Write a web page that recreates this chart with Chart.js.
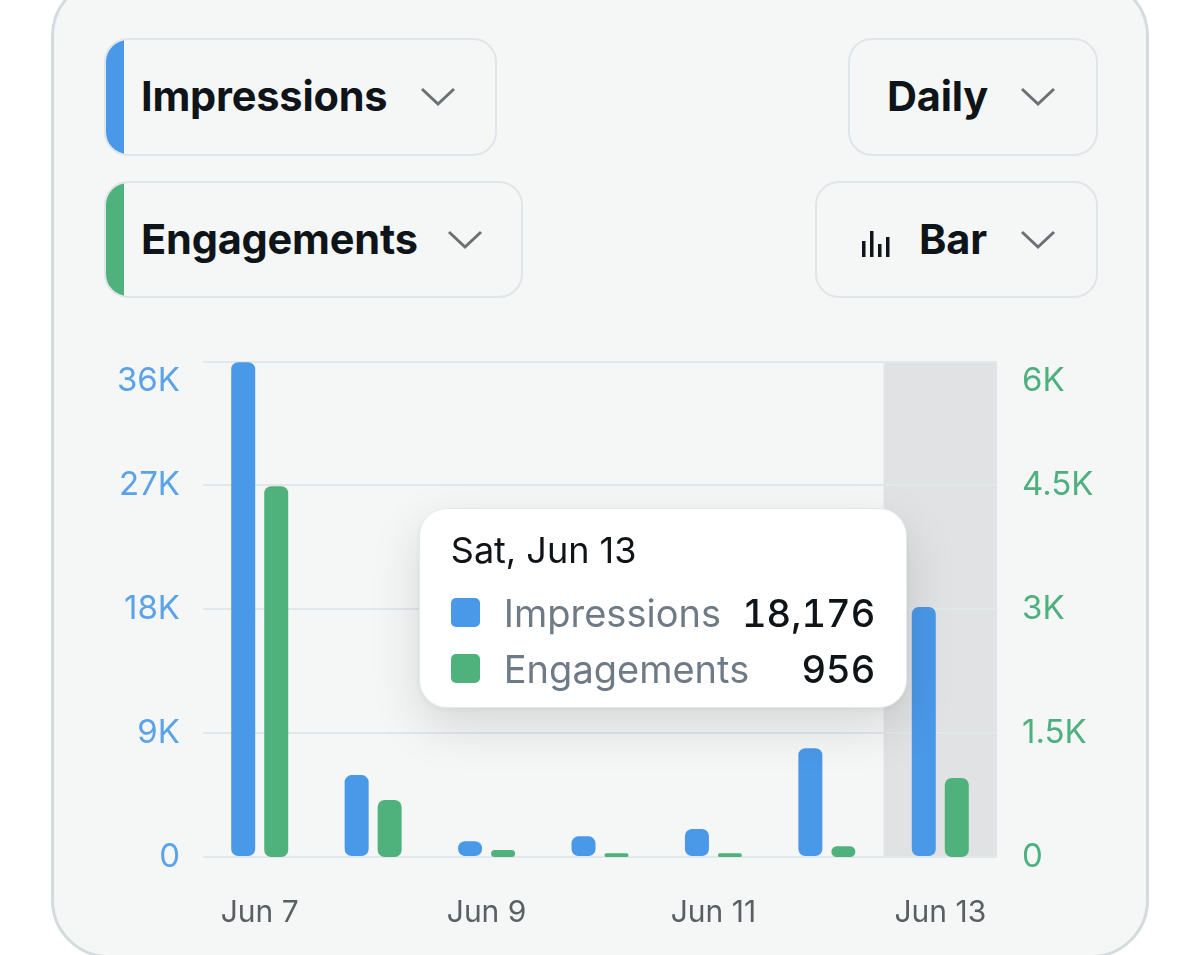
<!DOCTYPE html>
<html>
<head>
<meta charset="utf-8">
<script src="https://cdn.jsdelivr.net/npm/chart.js@4.4.1/dist/chart.umd.min.js"></script>
<style>
  html, body { margin:0; padding:0; background:#ffffff; width:1200px; height:955px; overflow:hidden; font-family: Inter, "Noto Sans", sans-serif; }
  #card { position:absolute; left:51px; top:-22px; width:1098px; height:980px; border:3px solid #d3dbdf; border-radius:58px; background:#f5f7f7; box-sizing:border-box; }
  .dd { position:absolute; box-sizing:border-box; border:2px solid #dfe5e8; border-radius:24px; background:#f5f7f7; overflow:hidden; color:#0f1419; font-weight:700; font-size:41.5px; }
  .dd .strip { position:absolute; left:0; top:0; bottom:0; width:18px; }
  .dd .txt { position:absolute; top:50%; transform:translateY(-52%); white-space:nowrap; letter-spacing:-0.2px; }
  .dd svg.chev { position:absolute; top:50%; margin-top:-10px; }
  #wrap { position:absolute; left:100px; top:297px; width:1000px; height:658px; }
  #tt { position:absolute; box-sizing:border-box; background:#ffffff; border:1px solid #e6e8ea; border-radius:28px; box-shadow: 0 18px 50px rgba(0,0,0,0.13), 0 2px 6px rgba(0,0,0,0.05); padding:18px 31px 10px 31px; pointer-events:none; color:#0f1419; opacity:0; }
  #tt .title { font-size:36px; font-weight:400; line-height:46px; margin-bottom:12px; }
  #tt .row { display:flex; align-items:center; height:56px; font-size:38px; }
  #tt .sw { width:29px; height:29px; border-radius:5px; margin-right:24px; flex:none; }
  #tt .lab { color:#6e7b86; flex:1; white-space:nowrap; }
  #tt .val { font-weight:500; margin-left:21px; white-space:nowrap; font-variant-numeric: tabular-nums; }
</style>
</head>
<body>
<div id="card"></div>

<div class="dd" style="left:104px;top:38px;width:393px;height:118px;">
  <div class="strip" style="background:#4a98e8;"></div>
  <div class="txt" style="left:35px;">Impressions</div>
  <svg class="chev" style="left:314px;" width="36" height="20" viewBox="0 0 36 20"><polyline points="2,2 18,17 34,2" fill="none" stroke="#6b7075" stroke-width="3"/></svg>
</div>
<div class="dd" style="left:104px;top:181px;width:419px;height:117px;">
  <div class="strip" style="background:#4fb27c;"></div>
  <div class="txt" style="left:35px;">Engagements</div>
  <svg class="chev" style="left:341px;" width="36" height="20" viewBox="0 0 36 20"><polyline points="2,2 18,17 34,2" fill="none" stroke="#6b7075" stroke-width="3"/></svg>
</div>
<div class="dd" style="left:848px;top:38px;width:250px;height:118px;">
  <div class="txt" style="left:37px;">Daily</div>
  <svg class="chev" style="left:170px;" width="36" height="20" viewBox="0 0 36 20"><polyline points="2,2 18,17 34,2" fill="none" stroke="#6b7075" stroke-width="3"/></svg>
</div>
<div class="dd" style="left:815px;top:181px;width:283px;height:117px;">
  <svg style="position:absolute;left:44px;top:45px;" width="30" height="30" viewBox="0 0 30 30">
    <rect x="1" y="13" width="3.5" height="16" fill="#0f1419"/>
    <rect x="9" y="3" width="3.5" height="26" fill="#0f1419"/>
    <rect x="17" y="16" width="3.5" height="13" fill="#0f1419"/>
    <rect x="25" y="9" width="3.5" height="20" fill="#0f1419"/>
  </svg>
  <div class="txt" style="left:102px;">Bar</div>
  <svg class="chev" style="left:203px;" width="36" height="20" viewBox="0 0 36 20"><polyline points="2,2 18,17 34,2" fill="none" stroke="#6b7075" stroke-width="3"/></svg>
</div>

<div id="wrap"><canvas id="c"></canvas></div>
<div id="tt"></div>

<script>
const categories = ['Jun 7', 'Jun 8', 'Jun 9', 'Jun 10', 'Jun 11', 'Jun 12', 'Jun 13'];
const fullDates = ['Sun, Jun 7', 'Mon, Jun 8', 'Tue, Jun 9', 'Wed, Jun 10', 'Thu, Jun 11', 'Fri, Jun 12', 'Sat, Jun 13'];
const impressions = [35950, 5950, 1140, 1500, 2040, 7900, 18176];
const engagements = [4490, 690, 85, 45, 45, 130, 956];
const leftTicks = [0, 9000, 18000, 27000, 36000];
const rightTicks = [0, 1500, 3000, 4500, 6000];
const activeIndex = 6;

const BLUE = '#4a98e8';
const GREEN = '#4fb27c';

function fmtK(v) {
  if (v === 0) return '0';
  const k = v / 1000;
  return (Number.isInteger(k) ? k.toString() : k.toFixed(1)) + 'K';
}

const highlightPlugin = {
  id: 'highlight',
  beforeDraw(chart) {
    const active = chart.tooltip.getActiveElements();
    if (!active.length) return;
    const idx = active[0].index;
    const xs = chart.scales.x, area = chart.chartArea;
    const w = xs.width / categories.length;
    const cx = xs.getPixelForValue(idx);
    const ctx = chart.ctx;
    ctx.save();
    ctx.fillStyle = '#e0e2e3';
    ctx.fillRect(cx - w / 2, area.top, w, area.bottom - area.top);
    ctx.restore();
  }
};

function externalTooltip(context) {
  const { chart, tooltip } = context;
  const el = document.getElementById('tt');
  if (tooltip.opacity === 0 || !tooltip.dataPoints || !tooltip.dataPoints.length) { el.style.opacity = 0; return; }
  const idx = tooltip.dataPoints[0].dataIndex;
  let html = '<div class="title">' + fullDates[idx] + '</div>';
  tooltip.dataPoints.forEach(dp => {
    html += '<div class="row"><span class="sw" style="background:' + dp.dataset.backgroundColor + '"></span>' +
            '<span class="lab">' + dp.dataset.label + '</span>' +
            '<span class="val">' + dp.raw.toLocaleString('en-US') + '</span></div>';
  });
  el.innerHTML = html;
  const bar = chart.getDatasetMeta(0).data[idx];
  const rect = chart.canvas.getBoundingClientRect();
  const w = el.offsetWidth, h = el.offsetHeight;
  el.style.left = (rect.left + bar.x - bar.width / 2 - 4 - w) + 'px';
  el.style.top = (rect.top + bar.y - h / 2 + 1) + 'px';
  el.style.opacity = 1;
}

const xFont = { family: 'Inter, "Noto Sans", sans-serif', size: 30 };
const yFont = { family: 'Inter, "Noto Sans", sans-serif', size: 33 };

const chart = new Chart(document.getElementById('c'), {
  type: 'bar',
  data: {
    labels: categories,
    datasets: [
      { label: 'Impressions', data: impressions, backgroundColor: BLUE, yAxisID: 'y', borderRadius: 7, borderSkipped: false },
      { label: 'Engagements', data: engagements, backgroundColor: GREEN, yAxisID: 'y1', borderRadius: 7, borderSkipped: false }
    ]
  },
  options: {
    responsive: true,
    maintainAspectRatio: false,
    animation: false,
    events: [],
    categoryPercentage: 0.582,
    barPercentage: 0.727,
    layout: { padding: 0 },
    plugins: {
      legend: { display: false },
      tooltip: { enabled: false, mode: 'index', intersect: false, external: externalTooltip }
    },
    scales: {
      x: {
        grid: { display: false, drawTicks: false },
        border: { display: false },
        ticks: {
          color: '#5a5f64', font: xFont, padding: 38, autoSkip: false, maxRotation: 0,
          callback: (v, i) => (i % 2 === 0 ? categories[i] : '')
        },
        afterFit: s => { s.height = 98; }
      },
      y: {
        position: 'left', min: 0, max: 36000,
        afterBuildTicks: s => { s.ticks = leftTicks.map(v => ({ value: v })); },
        grid: { color: '#e2e7ea', lineWidth: 2, drawTicks: false },
        border: { display: false },
        ticks: {
          color: '#5aa2ea', font: yFont, padding: 23,
          callback: v => (v === leftTicks[leftTicks.length - 1] ? ['', fmtK(v)] : fmtK(v))
        },
        afterFit: s => { s.width = 103; }
      },
      y1: {
        position: 'right', min: 0, max: 6000,
        afterBuildTicks: s => { s.ticks = rightTicks.map(v => ({ value: v })); },
        grid: { display: false, drawTicks: false },
        border: { display: false },
        ticks: {
          color: '#4fb07f', font: yFont, padding: 25,
          callback: v => (v === rightTicks[rightTicks.length - 1] ? ['', fmtK(v)] : fmtK(v))
        },
        afterFit: s => { s.width = 103; }
      }
    }
  },
  plugins: [highlightPlugin]
});

chart.tooltip.setActiveElements(
  [{ datasetIndex: 0, index: activeIndex }, { datasetIndex: 1, index: activeIndex }],
  { x: 0, y: 0 }
);
chart.update();
</script>
</body>
</html>
